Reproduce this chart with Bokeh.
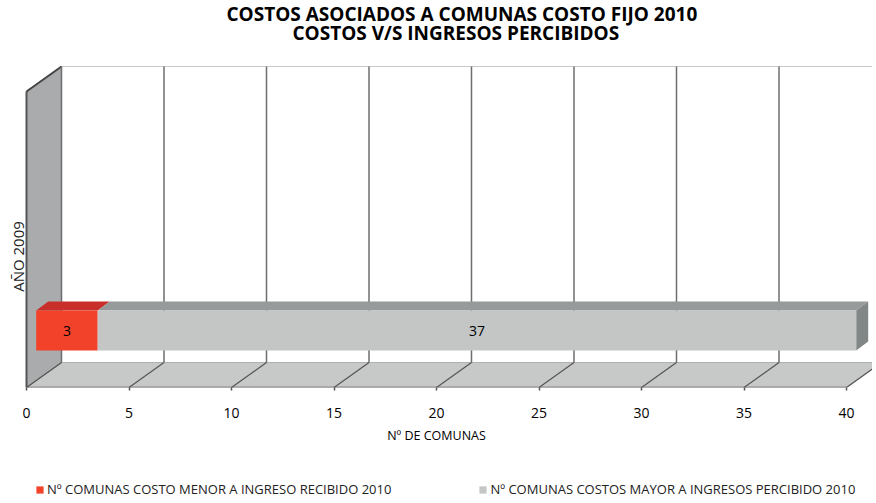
from bokeh.plotting import figure
from bokeh.layouts import column
from bokeh.models import (ColumnDataSource, Range1d, FixedTicker, Title, Legend, LegendItem)
from bokeh.transform import dodge
from bokeh.core.properties import value
from bokeh.embed import file_html
from bokeh.resources import INLINE
import math

# ---------------- data ----------------
categories = ["AÑO 2009"]
series_names = ["Nº COMUNAS COSTO MENOR A INGRESO RECIBIDO 2010",
                "Nº COMUNAS COSTOS MAYOR A INGRESOS PERCIBIDO 2010"]
menor = [3]
mayor = [37]
x_ticks = [0, 5, 10, 15, 20, 25, 30, 35, 40]
x_max = 40
title_1 = "COSTOS ASOCIADOS A COMUNAS COSTO FIJO 2010"
title_2 = "COSTOS  V/S  INGRESOS PERCIBIDOS"
x_label = "Nº DE COMUNAS"

# ---------------- style constants ----------------
FONT = "Open Sans"
PXU = 20.5                 # pixels per data unit (x)
X0_PX = 26                 # pixel position of value 0 from the frame's left
W = 872
TOP_B, BOTTOM_B = 38, 62
FRAME_H = 349
H = TOP_B + FRAME_H + BOTTOM_B
LEG_H = 52
DEPTH_X = 35 / PXU         # depth of the 3D box (x, data units)
DEPTH_Y = 25               # depth of the 3D box (y, pixel units)
WALL_H = 296
BAR_DX = 9.7 / PXU         # front face offset of the bar
BAR_Y0, BAR_Y1 = 37, 77
TOP_DX, TOP_DY = 12 / PXU, 9

RED = "#f2432a"
RED_TOP = "#c92f2a"
GRAY = "#c4c5c5"
GRAY_TOP = "#969a9a"
GRAY_SIDE = "#818686"
WALL = "#a9abac"
FLOOR = "#c7c8c8"
GRID = "#6e6e6e"

x_rng = Range1d(-X0_PX / PXU, (W - X0_PX) / PXU)

p = figure(width=W, height=H, x_range=x_rng, y_range=Range1d(0, FRAME_H),
           output_backend="svg", toolbar_location=None,
           min_border_left=0, min_border_right=0, min_border_top=TOP_B,
           min_border_bottom=BOTTOM_B, outline_line_color=None,
           background_fill_color="white", border_fill_color="white")
p.grid.visible = False
p.yaxis.visible = False

# titles (t2 is nearest the frame, t1 above it)
TITLE_SIZE = "19px"
t2 = Title(text=title_2, align="left", offset=292, standoff=-18, vertical_align="top",
           text_font=FONT, text_font_size=TITLE_SIZE, text_font_style="bold", text_color="black")
t1 = Title(text=title_1, align="left", offset=226, standoff=0, vertical_align="top",
           text_font=FONT, text_font_size=TITLE_SIZE, text_font_style="bold", text_color="black")
p.add_layout(t2, "above")
p.add_layout(t1, "above")

# x axis
ax = p.xaxis[0]
ax.ticker = FixedTicker(ticks=x_ticks)
ax.axis_line_color = None
ax.major_tick_line_color = "#555555"
ax.major_tick_line_width = 1.5
ax.major_tick_out = 3
ax.major_tick_in = 0
ax.minor_tick_line_color = None
ax.major_label_standoff = 17
ax.major_label_text_font = FONT
ax.major_label_text_font_size = "14px"
ax.major_label_text_color = "black"
ax.axis_label = x_label
ax.axis_label_standoff = 6
ax.axis_label_text_font = FONT
ax.axis_label_text_font_size = "12.5px"
ax.axis_label_text_font_style = "normal"
ax.axis_label_text_color = "black"

# ---------------- 3D box: walls & floor ----------------
p.patch([DEPTH_X, DEPTH_X + x_max, DEPTH_X + x_max, DEPTH_X],
        [DEPTH_Y, DEPTH_Y, DEPTH_Y + WALL_H, DEPTH_Y + WALL_H],
        fill_color="white", line_color="#c8c8c8", line_width=1)
p.patch([0, x_max, x_max + DEPTH_X, DEPTH_X], [0, 0, DEPTH_Y, DEPTH_Y],
        fill_color=FLOOR, line_color="#b0b0b0", line_width=1)
p.line([0, x_max], [0, 0], line_color="#8a8a8a", line_width=2)
p.patch([0, DEPTH_X, DEPTH_X, 0], [WALL_H, WALL_H + DEPTH_Y, DEPTH_Y, 0],
        fill_color=WALL, line_color="#8a8c8d", line_width=1)
p.line([0, 0], [0, WALL_H], line_color="#555555", line_width=2)
p.line([0, DEPTH_X], [WALL_H, WALL_H + DEPTH_Y], line_color="#444444", line_width=2)

grid_src = ColumnDataSource(dict(
    xs=[[t + DEPTH_X, t + DEPTH_X] for t in x_ticks],
    ys=[[DEPTH_Y, DEPTH_Y + WALL_H] for t in x_ticks]))
p.multi_line("xs", "ys", source=grid_src, line_color=GRID, line_width=1.5)
floor_src = ColumnDataSource(dict(
    xs=[[t, t + DEPTH_X] for t in x_ticks],
    ys=[[0, DEPTH_Y] for t in x_ticks]))
p.multi_line("xs", "ys", source=floor_src, line_color="#555555", line_width=1.2)

# ---------------- bars ----------------
starts_red = [0 for v in menor]
ends_red = [v for v in menor]
starts_gray = ends_red
ends_gray = [a + b for a, b in zip(menor, mayor)]

src_red = ColumnDataSource(dict(cat=categories, start=starts_red, end=ends_red,
                                val=menor, mid=[(a + b) / 2 for a, b in zip(starts_red, ends_red)]))
src_gray = ColumnDataSource(dict(cat=categories, start=starts_gray, end=ends_gray,
                                 val=mayor, mid=[(a + b) / 2 for a, b in zip(starts_gray, ends_gray)]))

for s_, e_, col in ((starts_red, ends_red, RED_TOP), (starts_gray, ends_gray, GRAY_TOP)):
    p.patches([[s + BAR_DX, e + BAR_DX, e + BAR_DX + TOP_DX, s + BAR_DX + TOP_DX] for s, e in zip(s_, e_)],
              [[BAR_Y1, BAR_Y1, BAR_Y1 + TOP_DY, BAR_Y1 + TOP_DY] for s in s_],
              fill_color=col, line_color=None)
p.patches([[e + BAR_DX, e + BAR_DX + TOP_DX, e + BAR_DX + TOP_DX, e + BAR_DX] for e in ends_gray],
          [[BAR_Y0, BAR_Y0 + TOP_DY, BAR_Y1 + TOP_DY, BAR_Y1] for e in ends_gray],
          fill_color=GRAY_SIDE, line_color=None)

p.quad(left=dodge("start", BAR_DX), right=dodge("end", BAR_DX),
       bottom=BAR_Y0, top=BAR_Y1, source=src_red, fill_color=RED, line_color=None)
p.quad(left=dodge("start", BAR_DX), right=dodge("end", BAR_DX),
       bottom=BAR_Y0, top=BAR_Y1, source=src_gray, fill_color=GRAY, line_color=None)

for src in (src_red, src_gray):
    p.text(x=dodge("mid", BAR_DX), y=(BAR_Y0 + BAR_Y1) / 2, text="val", source=src,
           text_font=value(FONT), text_font_size="14px", text_color="black",
           text_align="center", text_baseline="middle")

p.text(x=[-9 / PXU], y=[131], text=categories, angle=math.pi / 2,
       text_font=value(FONT), text_font_size="15px", text_color="#222222",
       text_align="center", text_baseline="middle")

# ---------------- legend strip (own small figure below the chart) ----------------
pl = figure(width=W, height=LEG_H, x_range=x_rng, y_range=Range1d(0, 1),
            output_backend="svg", toolbar_location=None,
            min_border_left=0, min_border_right=0, min_border_top=0, min_border_bottom=0,
            outline_line_color=None, background_fill_color="white", border_fill_color="white")
pl.axis.visible = False
pl.grid.visible = False
# same series, drawn outside the strip's view; only their legend entries show
lr = pl.quad(left=dodge("start", BAR_DX), right=dodge("end", BAR_DX),
             bottom=BAR_Y0, top=BAR_Y1, source=src_red, fill_color=RED, line_color=None)
lgr = pl.quad(left=dodge("start", BAR_DX), right=dodge("end", BAR_DX),
              bottom=BAR_Y0, top=BAR_Y1, source=src_gray, fill_color=GRAY, line_color=None)
lg = Legend(items=[LegendItem(label=series_names[0], renderers=[lr]),
                   LegendItem(label=series_names[1], renderers=[lgr])],
            location=(35, 3), orientation="horizontal",
            padding=0, margin=0, spacing=87, label_standoff=3,
            glyph_width=9, glyph_height=9, label_height=16,
            background_fill_alpha=0, border_line_color=None,
            label_text_font=FONT, label_text_font_size="13px",
            label_text_color="#222222")
pl.add_layout(lg)

layout = column(p, pl, spacing=0)
open("out.html", "w").write(file_html(layout, INLINE))
